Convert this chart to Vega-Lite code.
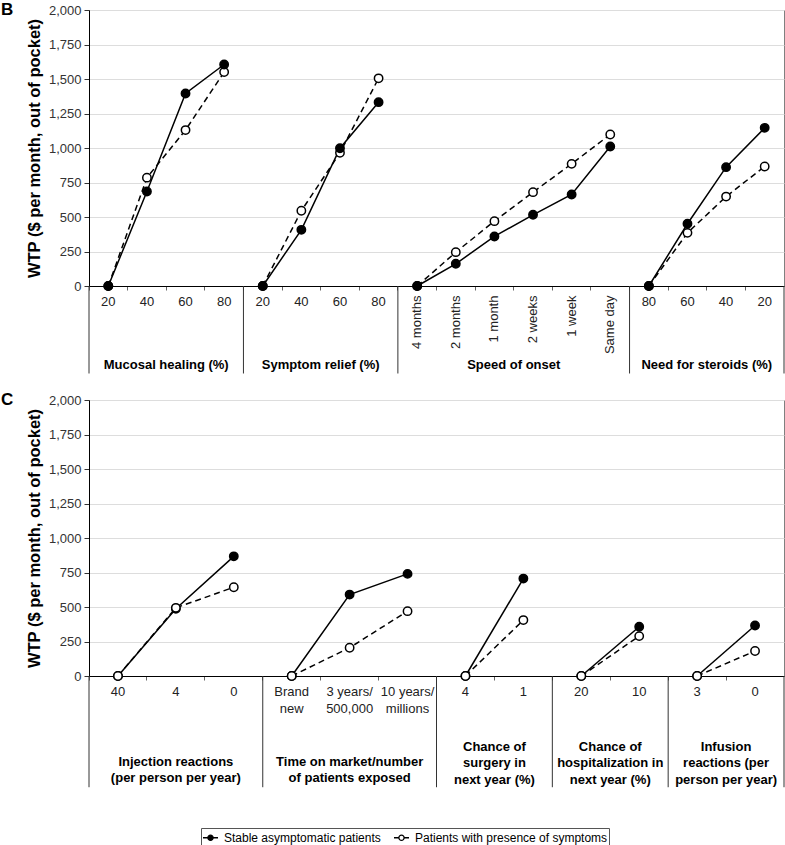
{
  "$schema": "https://vega.github.io/schema/vega-lite/v6.json",
  "padding": {"left": 0, "top": 0, "right": 0, "bottom": 0},
  "background": "white",
  "spacing": 15,
  "config": {
    "font": "Liberation Sans",
    "view": {"stroke": "#808080", "strokeWidth": 1},
    "legend": {
      "direction": "horizontal",
      "title": null,
      "strokeColor": "#555555",
      "padding": 1,
      "labelFontSize": 12,
      "labelColor": "black",
      "labelFont": "Liberation Sans",
      "labelLimit": 400,
      "symbolType": "M-1,0H-0.35M0.35,0H1M-0.35,0A0.35,0.35,0,1,1,0.35,0A0.35,0.35,0,1,1,-0.35,0Z",
      "symbolSize": 225,
      "symbolStrokeColor": "black",
      "symbolStrokeWidth": 1.3,
      "columnPadding": 10,
      "labelOffset": 5
    }
  },
  "datasets": {
    "ptsB": [
      {"k": "M|20", "g": "M", "lv": "20", "s": "Patients with presence of symptoms", "v": 0},
      {"k": "M|40", "g": "M", "lv": "40", "s": "Patients with presence of symptoms", "v": 785},
      {"k": "M|60", "g": "M", "lv": "60", "s": "Patients with presence of symptoms", "v": 1130},
      {"k": "M|80", "g": "M", "lv": "80", "s": "Patients with presence of symptoms", "v": 1550},
      {"k": "S|20", "g": "S", "lv": "20", "s": "Patients with presence of symptoms", "v": 0},
      {"k": "S|40", "g": "S", "lv": "40", "s": "Patients with presence of symptoms", "v": 545},
      {"k": "S|60", "g": "S", "lv": "60", "s": "Patients with presence of symptoms", "v": 965},
      {"k": "S|80", "g": "S", "lv": "80", "s": "Patients with presence of symptoms", "v": 1505},
      {"k": "O|4 months", "g": "O", "lv": "4 months", "s": "Patients with presence of symptoms", "v": 0},
      {"k": "O|2 months", "g": "O", "lv": "2 months", "s": "Patients with presence of symptoms", "v": 245},
      {"k": "O|1 month", "g": "O", "lv": "1 month", "s": "Patients with presence of symptoms", "v": 470},
      {"k": "O|2 weeks", "g": "O", "lv": "2 weeks", "s": "Patients with presence of symptoms", "v": 680},
      {"k": "O|1 week", "g": "O", "lv": "1 week", "s": "Patients with presence of symptoms", "v": 885},
      {"k": "O|Same day", "g": "O", "lv": "Same day", "s": "Patients with presence of symptoms", "v": 1098},
      {"k": "N|80", "g": "N", "lv": "80", "s": "Patients with presence of symptoms", "v": 0},
      {"k": "N|60", "g": "N", "lv": "60", "s": "Patients with presence of symptoms", "v": 385},
      {"k": "N|40", "g": "N", "lv": "40", "s": "Patients with presence of symptoms", "v": 648},
      {"k": "N|20", "g": "N", "lv": "20", "s": "Patients with presence of symptoms", "v": 866},
      {"k": "M|20", "g": "M", "lv": "20", "s": "Stable asymptomatic patients", "v": 0},
      {"k": "M|40", "g": "M", "lv": "40", "s": "Stable asymptomatic patients", "v": 685},
      {"k": "M|60", "g": "M", "lv": "60", "s": "Stable asymptomatic patients", "v": 1395},
      {"k": "M|80", "g": "M", "lv": "80", "s": "Stable asymptomatic patients", "v": 1605},
      {"k": "S|20", "g": "S", "lv": "20", "s": "Stable asymptomatic patients", "v": 0},
      {"k": "S|40", "g": "S", "lv": "40", "s": "Stable asymptomatic patients", "v": 407},
      {"k": "S|60", "g": "S", "lv": "60", "s": "Stable asymptomatic patients", "v": 998},
      {"k": "S|80", "g": "S", "lv": "80", "s": "Stable asymptomatic patients", "v": 1332},
      {"k": "O|4 months", "g": "O", "lv": "4 months", "s": "Stable asymptomatic patients", "v": 0},
      {"k": "O|2 months", "g": "O", "lv": "2 months", "s": "Stable asymptomatic patients", "v": 161},
      {"k": "O|1 month", "g": "O", "lv": "1 month", "s": "Stable asymptomatic patients", "v": 359},
      {"k": "O|2 weeks", "g": "O", "lv": "2 weeks", "s": "Stable asymptomatic patients", "v": 516},
      {"k": "O|1 week", "g": "O", "lv": "1 week", "s": "Stable asymptomatic patients", "v": 663},
      {"k": "O|Same day", "g": "O", "lv": "Same day", "s": "Stable asymptomatic patients", "v": 1011},
      {"k": "N|80", "g": "N", "lv": "80", "s": "Stable asymptomatic patients", "v": 0},
      {"k": "N|60", "g": "N", "lv": "60", "s": "Stable asymptomatic patients", "v": 451},
      {"k": "N|40", "g": "N", "lv": "40", "s": "Stable asymptomatic patients", "v": 861},
      {"k": "N|20", "g": "N", "lv": "20", "s": "Stable asymptomatic patients", "v": 1146}
    ],
    "ptsC": [
      {"k": "I|40", "g": "I", "s": "Stable asymptomatic patients", "v": 0},
      {"k": "I|4", "g": "I", "s": "Stable asymptomatic patients", "v": 487},
      {"k": "I|0", "g": "I", "s": "Stable asymptomatic patients", "v": 867},
      {"k": "T|Brand~new", "g": "T", "s": "Stable asymptomatic patients", "v": 0},
      {"k": "T|3 years/~500,000", "g": "T", "s": "Stable asymptomatic patients", "v": 590},
      {"k": "T|10 years/~millions", "g": "T", "s": "Stable asymptomatic patients", "v": 740},
      {"k": "U|4", "g": "U", "s": "Stable asymptomatic patients", "v": 0},
      {"k": "U|1", "g": "U", "s": "Stable asymptomatic patients", "v": 706},
      {"k": "H|20", "g": "H", "s": "Stable asymptomatic patients", "v": 0},
      {"k": "H|10", "g": "H", "s": "Stable asymptomatic patients", "v": 357},
      {"k": "F|3", "g": "F", "s": "Stable asymptomatic patients", "v": 0},
      {"k": "F|0", "g": "F", "s": "Stable asymptomatic patients", "v": 366},
      {"k": "I|40", "g": "I", "s": "Patients with presence of symptoms", "v": 0},
      {"k": "I|4", "g": "I", "s": "Patients with presence of symptoms", "v": 494},
      {"k": "I|0", "g": "I", "s": "Patients with presence of symptoms", "v": 643},
      {"k": "T|Brand~new", "g": "T", "s": "Patients with presence of symptoms", "v": 0},
      {"k": "T|3 years/~500,000", "g": "T", "s": "Patients with presence of symptoms", "v": 205},
      {"k": "T|10 years/~millions", "g": "T", "s": "Patients with presence of symptoms", "v": 470},
      {"k": "U|4", "g": "U", "s": "Patients with presence of symptoms", "v": 0},
      {"k": "U|1", "g": "U", "s": "Patients with presence of symptoms", "v": 405},
      {"k": "H|20", "g": "H", "s": "Patients with presence of symptoms", "v": 0},
      {"k": "H|10", "g": "H", "s": "Patients with presence of symptoms", "v": 289},
      {"k": "F|3", "g": "F", "s": "Patients with presence of symptoms", "v": 0},
      {"k": "F|0", "g": "F", "s": "Patients with presence of symptoms", "v": 181}
    ],
    "divB": [{"k": "M|20"}, {"k": "S|20"}, {"k": "O|4 months"}, {"k": "N|80"}],
    "divB2": [{"k": "N|20"}],
    "divC": [{"k": "I|40"}, {"k": "T|Brand~new"}, {"k": "U|4"}, {"k": "H|20"}, {"k": "F|3"}],
    "divC2": [{"k": "F|0"}],
    "labB": [
      {"k": "M|40", "name": "Mucosal healing (%)"},
      {"k": "S|40", "name": "Symptom relief (%)"},
      {"k": "O|1 month", "name": "Speed of onset"},
      {"k": "N|60", "name": "Need for steroids (%)"}
    ],
    "labC1": [
      {"k": "I|4", "name": ["Injection reactions", "(per person per year)"]},
      {"k": "T|3 years/~500,000", "name": ["Time on market/number", "of patients exposed"]}
    ],
    "labC2": [
      {"k": "U|4", "name": ["Chance of", "surgery in", "next year (%)"]},
      {"k": "H|20", "name": ["Chance of", "hospitalization in", "next year (%)"]},
      {"k": "F|3", "name": ["Infusion", "reactions (per", "person per year)"]}
    ]
  },
  "vconcat": [
    {
      "width": 695,
      "height": 276,
      "title": {"text": "B", "anchor": "start", "frame": "group", "dx": -88, "offset": -15, "fontSize": 17, "fontWeight": "bold", "color": "black"},
      "layer": [
        {
          "data": {"name": "ptsB"},
          "transform": [{"filter": "datum.s == 'Patients with presence of symptoms'"}],
          "mark": {"type": "line", "color": "black", "strokeWidth": 1.5, "strokeDash": [6, 4]},
          "encoding": {
            "x": {
              "field": "k", "type": "nominal",
              "scale": {"domain": ["M|20","M|40","M|60","M|80","S|20","S|40","S|60","S|80","O|4 months","O|2 months","O|1 month","O|2 weeks","O|1 week","O|Same day","N|80","N|60","N|40","N|20"], "paddingInner": 0, "paddingOuter": 0},
              "axis": {
                "title": null, "labelAngle": 0, "labelFontSize": 13, "labelColor": "#222222",
                "labelExpr": "indexof(datum.value, 'O|') == 0 ? '' : split(datum.value, '|')[1]",
                "bandPosition": 0, "tickSize": 4, "tickColor": "#666666", "domainColor": "black",
                "labelPadding": 5, "grid": false
              }
            },
            "y": {
              "field": "v", "type": "quantitative",
              "scale": {"domain": [0, 2000], "nice": false},
              "axis": {
                "title": "WTP ($ per month, out of pocket)", "titleFontSize": 16.5, "titleFontWeight": "bold",
                "titleColor": "black", "titlePadding": 6,
                "values": [0, 250, 500, 750, 1000, 1250, 1500, 1750, 2000], "tickCount": 20,
                "labelOverlap": false,
                "labelFontSize": 13, "labelColor": "#333333", "labelPadding": 3,
                "tickSize": 5, "tickColor": "#333333", "domainColor": "black",
                "grid": true, "gridColor": "#dddddd"
              }
            },
            "detail": {"field": "g"},
            "order": {"value": null}
          }
        },
        {
          "data": {"name": "ptsB"},
          "transform": [{"filter": "datum.s == 'Stable asymptomatic patients'"}],
          "mark": {"type": "line", "color": "black", "strokeWidth": 1.5},
          "encoding": {
            "x": {"field": "k", "type": "nominal"},
            "y": {"field": "v", "type": "quantitative"},
            "detail": {"field": "g"},
            "order": {"value": null}
          }
        },
        {
          "data": {"name": "ptsB"},
          "mark": {"type": "point", "shape": "circle", "filled": true, "size": 70, "stroke": "black", "strokeWidth": 1.5, "opacity": 1},
          "encoding": {
            "x": {"field": "k", "type": "nominal"},
            "y": {"field": "v", "type": "quantitative"},
            "fill": {
              "field": "s", "type": "nominal",
              "scale": {"domain": ["Stable asymptomatic patients", "Patients with presence of symptoms"], "range": ["black", "white"]},
              "legend": {"orient": "none", "legendX": 112, "legendY": 818, "direction": "horizontal"}
            }
          }
        },
        {
          "data": {"name": "divB"},
          "mark": {"type": "rule", "color": "#333333", "strokeWidth": 1},
          "encoding": {
            "x": {"field": "k", "type": "nominal", "bandPosition": 0},
            "y": {"datum": 0, "type": "quantitative"},
            "y2": {"datum": -634}
          }
        },
        {
          "data": {"name": "divB2"},
          "mark": {"type": "rule", "color": "#333333", "strokeWidth": 1},
          "encoding": {
            "x": {"field": "k", "type": "nominal", "bandPosition": 1},
            "y": {"datum": 0, "type": "quantitative"},
            "y2": {"datum": -634}
          }
        },
        {
          "data": {"name": "ptsB"},
          "transform": [{"filter": "datum.g == 'O' && datum.s == 'Stable asymptomatic patients'"}],
          "mark": {"type": "text", "angle": 270, "align": "right", "baseline": "middle", "fontSize": 13, "color": "#222222"},
          "encoding": {
            "x": {"field": "k", "type": "nominal"},
            "y": {"datum": -69, "type": "quantitative"},
            "text": {"field": "lv"}
          }
        },
        {
          "data": {"name": "labB"},
          "mark": {"type": "text", "align": "center", "baseline": "bottom", "fontSize": 13, "fontWeight": "bold", "color": "black"},
          "encoding": {
            "x": {"field": "k", "type": "nominal", "bandPosition": 1},
            "y": {"datum": -620, "type": "quantitative"},
            "text": {"field": "name"}
          }
        }
      ]
    },
    {
      "width": 695,
      "height": 276,
      "title": {"text": "C", "anchor": "start", "frame": "group", "dx": -88, "offset": -15, "fontSize": 17, "fontWeight": "bold", "color": "black"},
      "layer": [
        {
          "data": {"name": "ptsC"},
          "transform": [{"filter": "datum.s == 'Stable asymptomatic patients'"}],
          "mark": {"type": "line", "color": "black", "strokeWidth": 1.5},
          "encoding": {
            "x": {
              "field": "k", "type": "nominal",
              "scale": {"domain": ["I|40","I|4","I|0","T|Brand~new","T|3 years/~500,000","T|10 years/~millions","U|4","U|1","H|20","H|10","F|3","F|0"], "paddingInner": 0, "paddingOuter": 0},
              "axis": {
                "title": null, "labelAngle": 0, "labelFontSize": 13, "labelColor": "#222222",
                "labelExpr": "split(split(datum.value, '|')[1], '~')", "labelLineHeight": 17,
                "bandPosition": 0, "tickSize": 4, "tickColor": "#666666", "domainColor": "black",
                "labelPadding": 5, "grid": false
              }
            },
            "y": {
              "field": "v", "type": "quantitative",
              "scale": {"domain": [0, 2000], "nice": false},
              "axis": {
                "title": "WTP ($ per month, out of pocket)", "titleFontSize": 16.5, "titleFontWeight": "bold",
                "titleColor": "black", "titlePadding": 6,
                "values": [0, 250, 500, 750, 1000, 1250, 1500, 1750, 2000], "tickCount": 20,
                "labelOverlap": false,
                "labelFontSize": 13, "labelColor": "#333333", "labelPadding": 3,
                "tickSize": 5, "tickColor": "#333333", "domainColor": "black",
                "grid": true, "gridColor": "#dddddd"
              }
            },
            "detail": {"field": "g"},
            "order": {"value": null}
          }
        },
        {
          "data": {"name": "ptsC"},
          "transform": [{"filter": "datum.s == 'Patients with presence of symptoms'"}],
          "mark": {"type": "line", "color": "black", "strokeWidth": 1.5, "strokeDash": [6, 4]},
          "encoding": {
            "x": {"field": "k", "type": "nominal"},
            "y": {"field": "v", "type": "quantitative"},
            "detail": {"field": "g"},
            "order": {"value": null}
          }
        },
        {
          "data": {"name": "ptsC"},
          "mark": {"type": "point", "shape": "circle", "filled": true, "size": 70, "stroke": "black", "strokeWidth": 1.5, "opacity": 1},
          "encoding": {
            "x": {"field": "k", "type": "nominal"},
            "y": {"field": "v", "type": "quantitative"},
            "fill": {
              "field": "s", "type": "nominal",
              "scale": {"domain": ["Stable asymptomatic patients", "Patients with presence of symptoms"], "range": ["black", "white"]},
              "legend": {"orient": "none", "legendX": 112, "legendY": 818, "direction": "horizontal"}
            }
          }
        },
        {
          "data": {"name": "divC"},
          "mark": {"type": "rule", "color": "#333333", "strokeWidth": 1},
          "encoding": {
            "x": {"field": "k", "type": "nominal", "bandPosition": 0},
            "y": {"datum": 0, "type": "quantitative"},
            "y2": {"datum": -806}
          }
        },
        {
          "data": {"name": "divC2"},
          "mark": {"type": "rule", "color": "#333333", "strokeWidth": 1},
          "encoding": {
            "x": {"field": "k", "type": "nominal", "bandPosition": 1},
            "y": {"datum": 0, "type": "quantitative"},
            "y2": {"datum": -806}
          }
        },
        {
          "data": {"name": "labC1"},
          "mark": {"type": "text", "align": "center", "baseline": "top", "fontSize": 13, "fontWeight": "bold", "color": "black", "lineHeight": 16.5},
          "encoding": {
            "x": {"field": "k", "type": "nominal", "bandPosition": 0.5},
            "y": {"datum": -578, "type": "quantitative"},
            "text": {"field": "name"}
          }
        },
        {
          "data": {"name": "labC2"},
          "mark": {"type": "text", "align": "center", "baseline": "top", "fontSize": 13, "fontWeight": "bold", "color": "black", "lineHeight": 16.5},
          "encoding": {
            "x": {"field": "k", "type": "nominal", "bandPosition": 1},
            "y": {"datum": -470, "type": "quantitative"},
            "text": {"field": "name"}
          }
        }
      ]
    }
  ]
}
